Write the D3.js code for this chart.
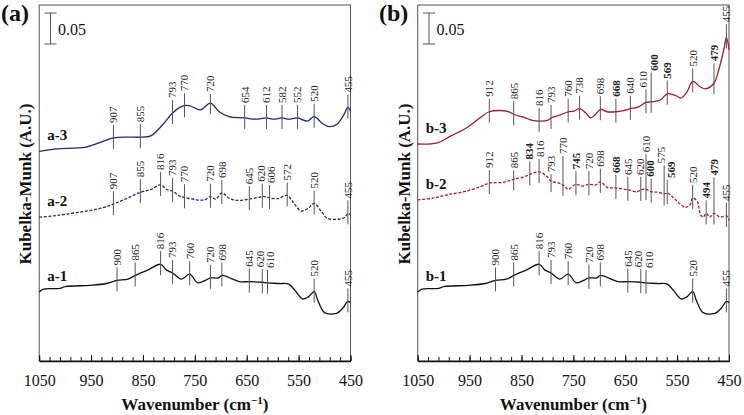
<!DOCTYPE html>
<html><head><meta charset="utf-8">
<script src="https://cdn.jsdelivr.net/npm/d3@7"></script>
<style>html,body{margin:0;padding:0;background:#fff;} svg{display:block;} svg text{font-family:"Liberation Serif","DejaVu Serif",serif !important;}</style>
</head><body><svg id="c" width="744" height="415"></svg>
<script>
// ---------------- DATA (Kubelka-Munk, A.U.) ----------------
const xTickLabels = [1050, 950, 850, 750, 650, 550, 450];

const a3Wn  = [1050,1018,960,928,906,877,855,835,812,793,777,761,739,720,703,684,654,633,612,598,582,569,552,533,520,504,492,476,463,455,450];
const a3Val = [0.338,0.342,0.345,0.354,0.360,0.361,0.361,0.363,0.381,0.400,0.410,0.412,0.405,0.416,0.402,0.394,0.392,0.390,0.392,0.390,0.392,0.390,0.392,0.387,0.394,0.383,0.378,0.382,0.397,0.409,0.403];
const a3Peaks = [907,855,793,770,720,654,612,582,552,520,455];

const a2Wn  = [1050,1023,997,965,933,907,882,855,834,816,805,793,779,770,747,731,720,710,698,683,667,645,620,612,606,590,572,558,545,532,520,506,494,471,461,455,450];
const a2Val = [0.232,0.234,0.237,0.241,0.246,0.253,0.262,0.272,0.277,0.284,0.277,0.274,0.266,0.264,0.260,0.260,0.265,0.261,0.271,0.262,0.259,0.261,0.265,0.265,0.263,0.262,0.267,0.253,0.242,0.246,0.254,0.241,0.230,0.229,0.232,0.238,0.236];
const a2Peaks = [907,855,816,793,770,720,698,645,620,606,572,520,455];

const a1Wn  = [1050,1042,1010,1000,952,920,900,879,865,840,816,805,793,776,760,744,728,720,705,698,677,664,645,620,610,587,569,558,542,532,520,513,500,477,465,455,450];
const a1Val = [0.111,0.116,0.117,0.120,0.122,0.125,0.130,0.132,0.138,0.147,0.156,0.147,0.142,0.132,0.140,0.126,0.131,0.134,0.134,0.138,0.132,0.128,0.128,0.127,0.126,0.125,0.124,0.115,0.100,0.103,0.112,0.098,0.078,0.077,0.085,0.096,0.094];
const a1Peaks = [900,865,816,793,760,720,698,645,620,610,520,455];

const b3Wn  = [1050,1012,986,954,929,912,893,874,865,845,829,816,800,793,775,760,749,738,726,717,707,698,685,668,653,640,624,610,600,582,569,550,543,531,520,505,495,479,470,460,455,450];
const b3Val = [0.350,0.352,0.363,0.377,0.393,0.402,0.404,0.402,0.398,0.393,0.388,0.387,0.388,0.392,0.397,0.402,0.403,0.407,0.400,0.392,0.398,0.406,0.402,0.402,0.404,0.407,0.410,0.417,0.418,0.421,0.431,0.427,0.424,0.434,0.451,0.442,0.439,0.448,0.469,0.502,0.522,0.502];
const b3Peaks = [912,865,816,793,760,738,698,668,640,610,600,569,520,479,455];
const b3Bold  = [668,600,569,479];

const b2Wn  = [1050,1019,993,961,929,912,887,865,845,834,816,800,793,778,770,760,745,733,720,707,698,685,668,645,627,620,610,600,585,575,569,553,535,525,520,511,505,500,494,487,479,467,455,450];
const b2Val = [0.260,0.263,0.268,0.273,0.281,0.287,0.288,0.293,0.297,0.301,0.305,0.297,0.290,0.287,0.284,0.277,0.285,0.282,0.285,0.284,0.289,0.280,0.279,0.276,0.273,0.276,0.277,0.273,0.272,0.269,0.271,0.260,0.248,0.252,0.263,0.257,0.236,0.232,0.238,0.232,0.238,0.232,0.234,0.227];
const b2Peaks = [912,865,834,816,793,770,745,720,698,668,645,620,610,600,575,569,520,494,479,455];
const b2Bold  = [834,745,668,600,569,494,479];

const b1Wn  = [1050,1042,1010,1000,952,920,900,879,865,840,816,805,793,776,760,744,728,720,705,698,677,664,645,620,610,587,569,558,542,532,520,513,500,477,465,455,450];
const b1Val = [0.111,0.116,0.117,0.120,0.122,0.125,0.130,0.132,0.138,0.147,0.156,0.147,0.142,0.132,0.140,0.126,0.131,0.134,0.134,0.138,0.132,0.128,0.128,0.127,0.126,0.125,0.124,0.115,0.100,0.103,0.112,0.098,0.078,0.077,0.085,0.096,0.094];
const b1Peaks = [900,865,816,793,760,720,698,645,620,610,520,455];

const scaleBarValue = 0.05;

// ---------------- LAYOUT ----------------
const svg = d3.select('#c');
const TOP = 5, BOTTOM = 361;
const y = d3.scaleLinear().domain([0, 0.5742]).range([BOTTOM, TOP]);

const panels = [
  {tag:'(a)', tagX:1, x0:39.2, x1:350.5, ylabX:31, series:[
    {name:'a-3', wn:a3Wn, val:a3Val, color:'#1f2b6d', dash:null, peaks:a3Peaks, bold:[], lift:{720:-4}},
    {name:'a-2', wn:a2Wn, val:a2Val, color:'#1f2b6d', dash:'3,1.6', peaks:a2Peaks, bold:[], lift:{}},
    {name:'a-1', wn:a1Wn, val:a1Val, color:'#111', dash:null, peaks:a1Peaks, bold:[], lift:{}}
  ]},
  {tag:'(b)', tagX:379, x0:417.7, x1:729, ylabX:409.5, series:[
    {name:'b-3', wn:b3Wn, val:b3Val, color:'#9e1f2b', dash:null, peaks:b3Peaks, bold:b3Bold, lift:{600:16, 479:7}},
    {name:'b-2', wn:b2Wn, val:b2Val, color:'#9e1f2b', dash:'3,1.6', peaks:b2Peaks, bold:b2Bold, lift:{770:16, 610:22, 575:16, 479:23, 865:-4, 793:-6}},
    {name:'b-1', wn:b1Wn, val:b1Val, color:'#111', dash:null, peaks:b1Peaks, bold:[], lift:{}}
  ]}
];

function interp(wn, val, w) {
  for (let i = 0; i < wn.length - 1; i++) {
    const a = wn[i], b = wn[i+1];
    if ((w <= a && w >= b)) {
      const t = (a - w) / (a - b);
      return val[i] + t * (val[i+1] - val[i]);
    }
  }
  return val[val.length-1];
}

panels.forEach(p => {
  const x = d3.scaleLinear().domain([1050, 450]).range([p.x0, p.x1]);
  const g = svg.append('g');

  g.append('rect').attr('x', p.x0).attr('y', TOP).attr('width', p.x1 - p.x0).attr('height', BOTTOM - TOP)
    .attr('fill', 'none').attr('stroke', '#555').attr('stroke-width', 1);

  const minor = g.append('g').attr('transform', `translate(0,${BOTTOM})`)
    .call(d3.axisBottom(x).tickValues(d3.range(1050, 449, -20)).tickSizeInner(-4).tickSizeOuter(0).tickFormat(''));
  minor.select('.domain').remove();
  minor.selectAll('line').attr('stroke', '#111').attr('stroke-width', 1);

  const ax = g.append('g').attr('transform', `translate(0,${BOTTOM})`)
    .call(d3.axisBottom(x).tickValues(xTickLabels).tickSizeInner(-6).tickSizeOuter(0).tickPadding(14).tickFormat(d3.format('d')));
  ax.select('.domain').attr('stroke', '#111').attr('stroke-width', 1.5);
  ax.selectAll('line').attr('stroke', '#111').attr('stroke-width', 1);
  ax.selectAll('text').attr('font-size', 16).attr('fill', '#111');

  const xl = g.append('text').attr('x', (p.x0 + p.x1) / 2).attr('y', 410).attr('text-anchor', 'middle')
    .attr('font-size', 17).attr('font-weight', 'bold').attr('fill', '#111');
  xl.append('tspan').text('Wavenumber (cm');
  xl.append('tspan').attr('dy', -6).attr('font-size', 11).text('\u22121');
  xl.append('tspan').attr('dy', 6).text(')');

  g.append('text').attr('transform', `translate(${p.ylabX},${(TOP + BOTTOM) / 2 + 1}) rotate(-90)`)
    .attr('text-anchor', 'middle').attr('font-size', 17).attr('font-weight', 'bold')
    .attr('fill', '#111').text('Kubelka-Munk (A.U.)');

  g.append('text').attr('x', p.tagX).attr('y', 21).attr('font-size', 24)
    .attr('font-weight', 'bold').attr('fill', '#111').text(p.tag);

  const bx = p.x0 + 11.3, by0 = 13, bh = y(0) - y(scaleBarValue);
  g.append('line').attr('x1', bx).attr('x2', bx).attr('y1', by0).attr('y2', by0 + bh).attr('stroke', '#555').attr('stroke-width', 1);
  g.append('line').attr('x1', bx - 6).attr('x2', bx + 6).attr('y1', by0).attr('y2', by0).attr('stroke', '#555').attr('stroke-width', 1);
  g.append('line').attr('x1', bx - 6).attr('x2', bx + 6).attr('y1', by0 + bh).attr('y2', by0 + bh).attr('stroke', '#555').attr('stroke-width', 1);
  g.append('text').attr('x', bx + 7.5).attr('y', 35).attr('font-size', 16).attr('fill', '#111')
    .text(scaleBarValue.toFixed(2));

  const line = d3.line().x(d => x(d[0])).y(d => y(d[1])).curve(d3.curveCatmullRom.alpha(0.5));

  p.series.forEach(s => {
    const pts = s.wn.map((w, i) => [w, s.val[i]]);
    g.append('path').attr('d', line(pts)).attr('fill', 'none').attr('stroke', s.color)
      .attr('stroke-width', 1.3).attr('stroke-dasharray', s.dash);

    g.append('text').attr('x', p.x0 + 8).attr('y', y(s.val[0]) - 11)
      .attr('font-size', 15).attr('font-weight', 'bold').attr('fill', '#111').text(s.name);

    const labs = s.peaks.map(w => {
      const cy = y(interp(s.wn, s.val, w));
      const lift = s.lift[w] || 0;
      const lb = cy - 15 - lift;
      return {w, x: x(w), lx: x(w), cy, lb, lt: lb - 18, bold: s.bold.includes(w)};
    });
    for (let it = 0; it < 40; it++) {
      labs.sort((a, b) => a.lx - b.lx);
      for (let i = 0; i < labs.length; i++) {
        for (let j = i + 1; j < labs.length; j++) {
          const A = labs[i], B = labs[j];
          const vOverlap = !(A.lb < B.lt || B.lb < A.lt);
          if (!vOverlap) continue;
          const d = B.lx - A.lx;
          if (d < 10.5) {
            const push = (10.5 - d) / 2;
            A.lx -= push; B.lx += push;
          }
        }
      }
    }
    labs.forEach(l => {
      g.append('line').attr('x1', l.x).attr('x2', l.x).attr('y1', l.lb + 2).attr('y2', l.cy + 11)
        .attr('stroke', '#555').attr('stroke-width', 1);
      g.append('text').attr('transform', `translate(${l.lx},${l.lb}) rotate(-90)`)
        .attr('dy', '0.35em').attr('font-size', 11)
        .attr('font-weight', l.bold ? 'bold' : 'normal').attr('fill', '#222').text(l.w);
    });
  });
});
</script>
</body></html>
